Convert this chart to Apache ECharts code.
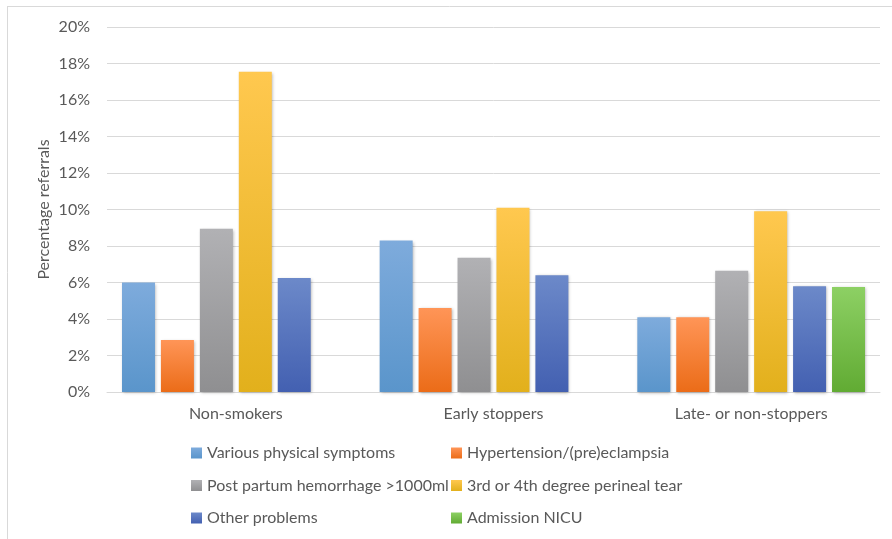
<!DOCTYPE html>
<html>
<head>
<meta charset="utf-8">
<script src="https://cdn.jsdelivr.net/npm/echarts@6/dist/echarts.min.js"></script>
<style>html,body{margin:0;padding:0;background:#fff}#c{width:892px;height:539px}</style>
</head>
<body>
<div id="c"></div>
<script>
var categories = ['Non-smokers', 'Early stoppers', 'Late- or non-stoppers'];
var seriesNames = ['Various physical symptoms', 'Hypertension/(pre)eclampsia', 'Post partum hemorrhage >1000ml', '3rd or 4th degree perineal tear', 'Other problems', 'Admission NICU'];
var variousPhysical = [6.0, 8.3, 4.1];
var hypertension = [2.85, 4.6, 4.1];
var hemorrhage = [8.95, 7.35, 6.65];
var perinealTear = [17.55, 10.1, 9.9];
var otherProblems = [6.25, 6.4, 5.8];
var admissionNicu = [null, null, 5.75];
var yTicks = [0, 2, 4, 6, 8, 10, 12, 14, 16, 18, 20];

var values = [variousPhysical, hypertension, hemorrhage, perinealTear, otherProblems, admissionNicu];
var gradients = [
  ['#7EABDC', '#5A95CB'],
  ['#FF9557', '#EB6C18'],
  ['#B1B1B4', '#8F8F91'],
  ['#FFC84F', '#E2B01C'],
  ['#6C89C9', '#4360B1'],
  ['#8DD064', '#61AB33']
];
var FONT = 'Lato';
var chart = echarts.init(document.getElementById('c'));
var series = values.map(function (v, i) {
  return {
    name: seriesNames[i],
    type: 'bar',
    data: v,
    barWidth: 33,
    barGap: '18%',
    itemStyle: {
      color: new echarts.graphic.LinearGradient(0, 0, 0, 1, [
        { offset: 0, color: gradients[i][0] },
        { offset: 1, color: gradients[i][1] }
      ]),
      shadowBlur: 3,
      shadowColor: 'rgba(0,0,0,0.3)',
      shadowOffsetX: 1,
      shadowOffsetY: 1
    }
  };
});
var legendText = { color: '#595959', fontSize: 16, fontFamily: FONT, lineHeight: 16 };
chart.setOption({
  animation: false,
  backgroundColor: '#fff',
  graphic: [
    { type: 'line', shape: { x1: 7, y1: 6.5, x2: 892, y2: 6.5 }, style: { stroke: '#D9D9D9', lineWidth: 1 } },
    { type: 'line', shape: { x1: 7.5, y1: 6, x2: 7.5, y2: 539 }, style: { stroke: '#D9D9D9', lineWidth: 1 } }
  ],
  grid: { left: 107, right: 12, top: 27, bottom: 147 },
  legend: [
    {
      orient: 'vertical', left: 186, top: 440, itemWidth: 11, itemHeight: 11, itemGap: 16.5,
      icon: 'rect', textStyle: legendText, itemStyle: { shadowBlur: 0, shadowOffsetX: 0, shadowOffsetY: 0 },
      data: [seriesNames[0], seriesNames[2], seriesNames[4]]
    },
    {
      orient: 'vertical', left: 446, top: 440, itemWidth: 11, itemHeight: 11, itemGap: 16.5,
      icon: 'rect', textStyle: legendText, itemStyle: { shadowBlur: 0, shadowOffsetX: 0, shadowOffsetY: 0 },
      data: [seriesNames[1], seriesNames[3], seriesNames[5]]
    }
  ],
  xAxis: {
    type: 'category',
    data: categories,
    axisLine: { lineStyle: { color: '#D9D9D9', width: 1 } },
    axisTick: { show: false },
    axisLabel: { color: '#595959', fontSize: 16, fontFamily: FONT, margin: 14 }
  },
  yAxis: {
    type: 'value',
    min: yTicks[0],
    max: yTicks[yTicks.length - 1],
    interval: 2,
    name: 'Percentage referrals',
    nameLocation: 'middle',
    nameGap: 55,
    nameMoveOverlap: false,
    nameTextStyle: { color: '#595959', fontSize: 16, fontFamily: FONT },
    axisLine: { show: false },
    axisTick: { show: false },
    splitLine: { lineStyle: { color: '#D9D9D9', width: 1 } },
    axisLabel: { color: '#595959', fontSize: 16, fontFamily: FONT, margin: 17, formatter: '{value}%' }
  },
  series: series
});
</script>
</body>
</html>
